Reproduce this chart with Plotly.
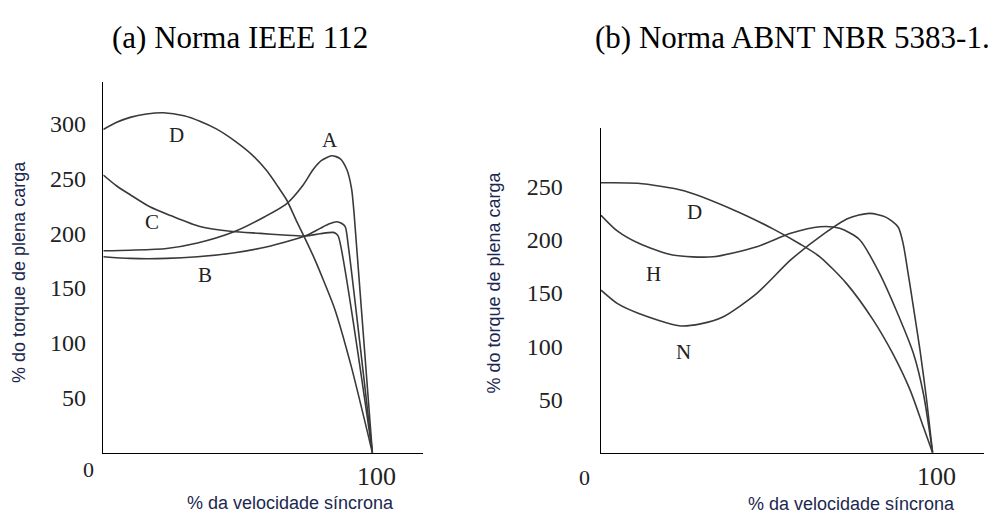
import plotly.graph_objects as go

# ---------------- data: panel (a) Norma IEEE 112 ----------------
a_A_x = [0, 10, 23.5, 35, 48.3, 60, 68.2, 74, 78, 81, 84.9, 88, 90.5, 92.3, 93.2, 100]
a_A_y = [184, 184.5, 186, 191, 201, 215, 227, 243, 258, 266, 270.5, 268, 258, 240, 218, 0]

a_B_x = [0, 10, 23.5, 35, 48.3, 58.3, 67, 75, 80.6, 84, 86.8, 88.5, 89.9, 91.1, 100]
a_B_y = [178.5, 177, 177, 178.5, 182, 186.2, 191.5, 197.4, 204.4, 208.5, 210.4, 209, 206, 187.6, 0]

a_C_x = [0, 5, 10, 17.3, 25, 35.9, 48, 58.3, 67, 75, 80.6, 85.5, 86.5, 87.4, 100]
a_C_y = [253, 243, 235, 224, 216, 206, 201.5, 199.8, 198.3, 197.4, 199.5, 200.7, 199.5, 196.7, 0]

a_D_x = [0, 5, 10, 16, 22.3, 30, 35.9, 42, 48.3, 55, 60.7, 65, 68.2, 72, 75, 78.7, 82, 86, 92, 100]
a_D_y = [294.5, 301, 305.5, 308.5, 309.7, 307, 302, 295, 285, 272, 257, 242, 230, 210, 195, 175.5, 156, 131, 80, 0]

a_labels = ["A", "B", "C", "D"]
a_label_x = [84.3, 37.8, 18.0, 27.3]
a_label_y = [284.8, 161.8, 210.4, 289.3]
a_yticks = [50, 100, 150, 200, 250, 300]

# ---------------- data: panel (b) Norma ABNT NBR 5383-1 ----------------
b_D_x = [0, 11, 25, 40, 52, 60, 66, 74, 82, 88, 93.2, 97.2, 100]
b_D_y = [253.5, 253, 246, 228, 210, 196, 184, 159, 125, 93, 59, 24.4, 0]

b_H_x = [0, 5, 11.4, 21.6, 33.8, 47, 57.2, 66, 72, 78, 84, 89, 94.2, 97.2, 100]
b_H_y = [223, 208, 196.6, 185.6, 184, 193.4, 206, 212.2, 210.7, 200, 168.4, 134, 93.3, 55.8, 0]

b_N_x = [0, 5, 11.4, 23.6, 30, 36.9, 47, 57.2, 67.4, 74.5, 81, 86, 89.6, 91.1, 92.3, 94.2, 96.2, 98.2, 100]
b_N_y = [152.7, 140, 130.8, 119.2, 121, 127.7, 149.6, 181, 206, 220, 224.8, 221, 212, 196.6, 174.6, 137, 96.4, 49.5, 0]

b_labels = ["D", "H", "N"]
b_label_x = [28.2, 15.9, 24.8]
b_label_y = [226, 168.2, 94.5]
b_yticks = [50, 100, 150, 200, 250]

x_tick_text = ["0", "100"]
titles = ["(a) Norma IEEE 112", "(b) Norma ABNT NBR 5383-1."]
x_title = "% da velocidade síncrona"
y_title = "% do torque de plena carga"

# ---------------- figure ----------------
W, H = 1000, 513
def fx(p):
    return p / W
def fy(p):
    return 1 - p / H

CURVE = dict(color="#3a3a3a", width=1.6, shape="spline", smoothing=0.7)
TITLE_COLOR = "#1c2850"
SERIF = "Liberation Serif"
SANS = "Liberation Sans"

fig = go.Figure()
for xs, ys in [(a_A_x, a_A_y), (a_B_x, a_B_y), (a_C_x, a_C_y), (a_D_x, a_D_y)]:
    fig.add_trace(go.Scatter(x=xs, y=ys, mode="lines", line=CURVE,
                             xaxis="x", yaxis="y", hoverinfo="skip", showlegend=False))
for xs, ys in [(b_D_x, b_D_y), (b_H_x, b_H_y), (b_N_x, b_N_y)]:
    fig.add_trace(go.Scatter(x=xs, y=ys, mode="lines", line=CURVE,
                             xaxis="x2", yaxis="y2", hoverinfo="skip", showlegend=False))

common_x = dict(showline=True, linecolor="black", linewidth=1.5, showgrid=False,
                zeroline=False, showticklabels=False, ticks="", fixedrange=True)
common_y = dict(showline=True, linecolor="black", linewidth=1.5, showgrid=False,
                zeroline=False, ticks="", fixedrange=True,
                tickfont=dict(family=SERIF, size=24, color="#222222"))

fig.update_layout(
    width=W, height=H,
    margin=dict(l=0, r=0, t=0, b=0),
    paper_bgcolor="white", plot_bgcolor="white",
    xaxis=dict(common_x, domain=[fx(103.3), fx(422.7)], range=[0, 118.7], anchor="y"),
    yaxis=dict(common_y, domain=[fy(452.7), fy(81.7)], range=[0, 338], anchor="x",
               tickvals=a_yticks, ticktext=[str(v) for v in a_yticks], ticklabelstandoff=11),
    xaxis2=dict(common_x, domain=[fx(601), fx(984)], range=[0, 115.5], anchor="y2"),
    yaxis2=dict(common_y, domain=[fy(452.7), fy(127.5)], range=[0, 305.4], anchor="x2",
                tickvals=b_yticks, ticktext=[str(v) for v in b_yticks], ticklabelstandoff=32),
)

ann = []
def paper_text(text, xc, yc, font, angle=0):
    return dict(text=text, x=fx(xc), y=fy(yc), xref="paper", yref="paper",
                xanchor="center", yanchor="middle", textangle=angle,
                showarrow=False, font=font)

# panel titles
ann.append(paper_text(titles[0], 240, 37, dict(family=SERIF, size=31, color="black")))
ann.append(paper_text(titles[1], 792.5, 37, dict(family=SERIF, size=31, color="black")))
# axis titles
for xc, yc in [(290.3, 503), (851, 504)]:
    ann.append(paper_text(x_title, xc, yc, dict(family=SANS, size=18, color=TITLE_COLOR)))
for xc, yc in [(19, 272), (493.6, 283)]:
    ann.append(paper_text(y_title, xc, yc, dict(family=SANS, size=18, color=TITLE_COLOR), -90))
# x tick labels "0" and "100"
for xr, yr, sx0, sy0, sx1, sy1 in [("x", "y", -15, -17, 4, -24), ("x2", "y2", -17, -25, 4, -24)]:
    ann.append(dict(text=x_tick_text[0], x=0, y=0, xref=xr, yref=yr, xshift=sx0, yshift=sy0,
                    xanchor="center", yanchor="middle",
                    showarrow=False, font=dict(family=SERIF, size=22, color="#222222")))
    ann.append(dict(text=x_tick_text[1], x=100, y=0, xref=xr, yref=yr, xshift=sx1, yshift=sy1,
                    xanchor="center", yanchor="middle",
                    showarrow=False, font=dict(family=SERIF, size=26, color="#222222")))
# curve labels
for t, xv, yv in zip(a_labels, a_label_x, a_label_y):
    ann.append(dict(text=t, x=xv, y=yv, xref="x", yref="y", showarrow=False,
                    xanchor="center", yanchor="middle",
                    font=dict(family=SERIF, size=21, color="#222222")))
for t, xv, yv in zip(b_labels, b_label_x, b_label_y):
    ann.append(dict(text=t, x=xv, y=yv, xref="x2", yref="y2", showarrow=False,
                    xanchor="center", yanchor="middle",
                    font=dict(family=SERIF, size=21, color="#222222")))
fig.update_layout(annotations=ann)

fig.write_html("out.html", config={"displayModeBar": False, "staticPlot": True})
